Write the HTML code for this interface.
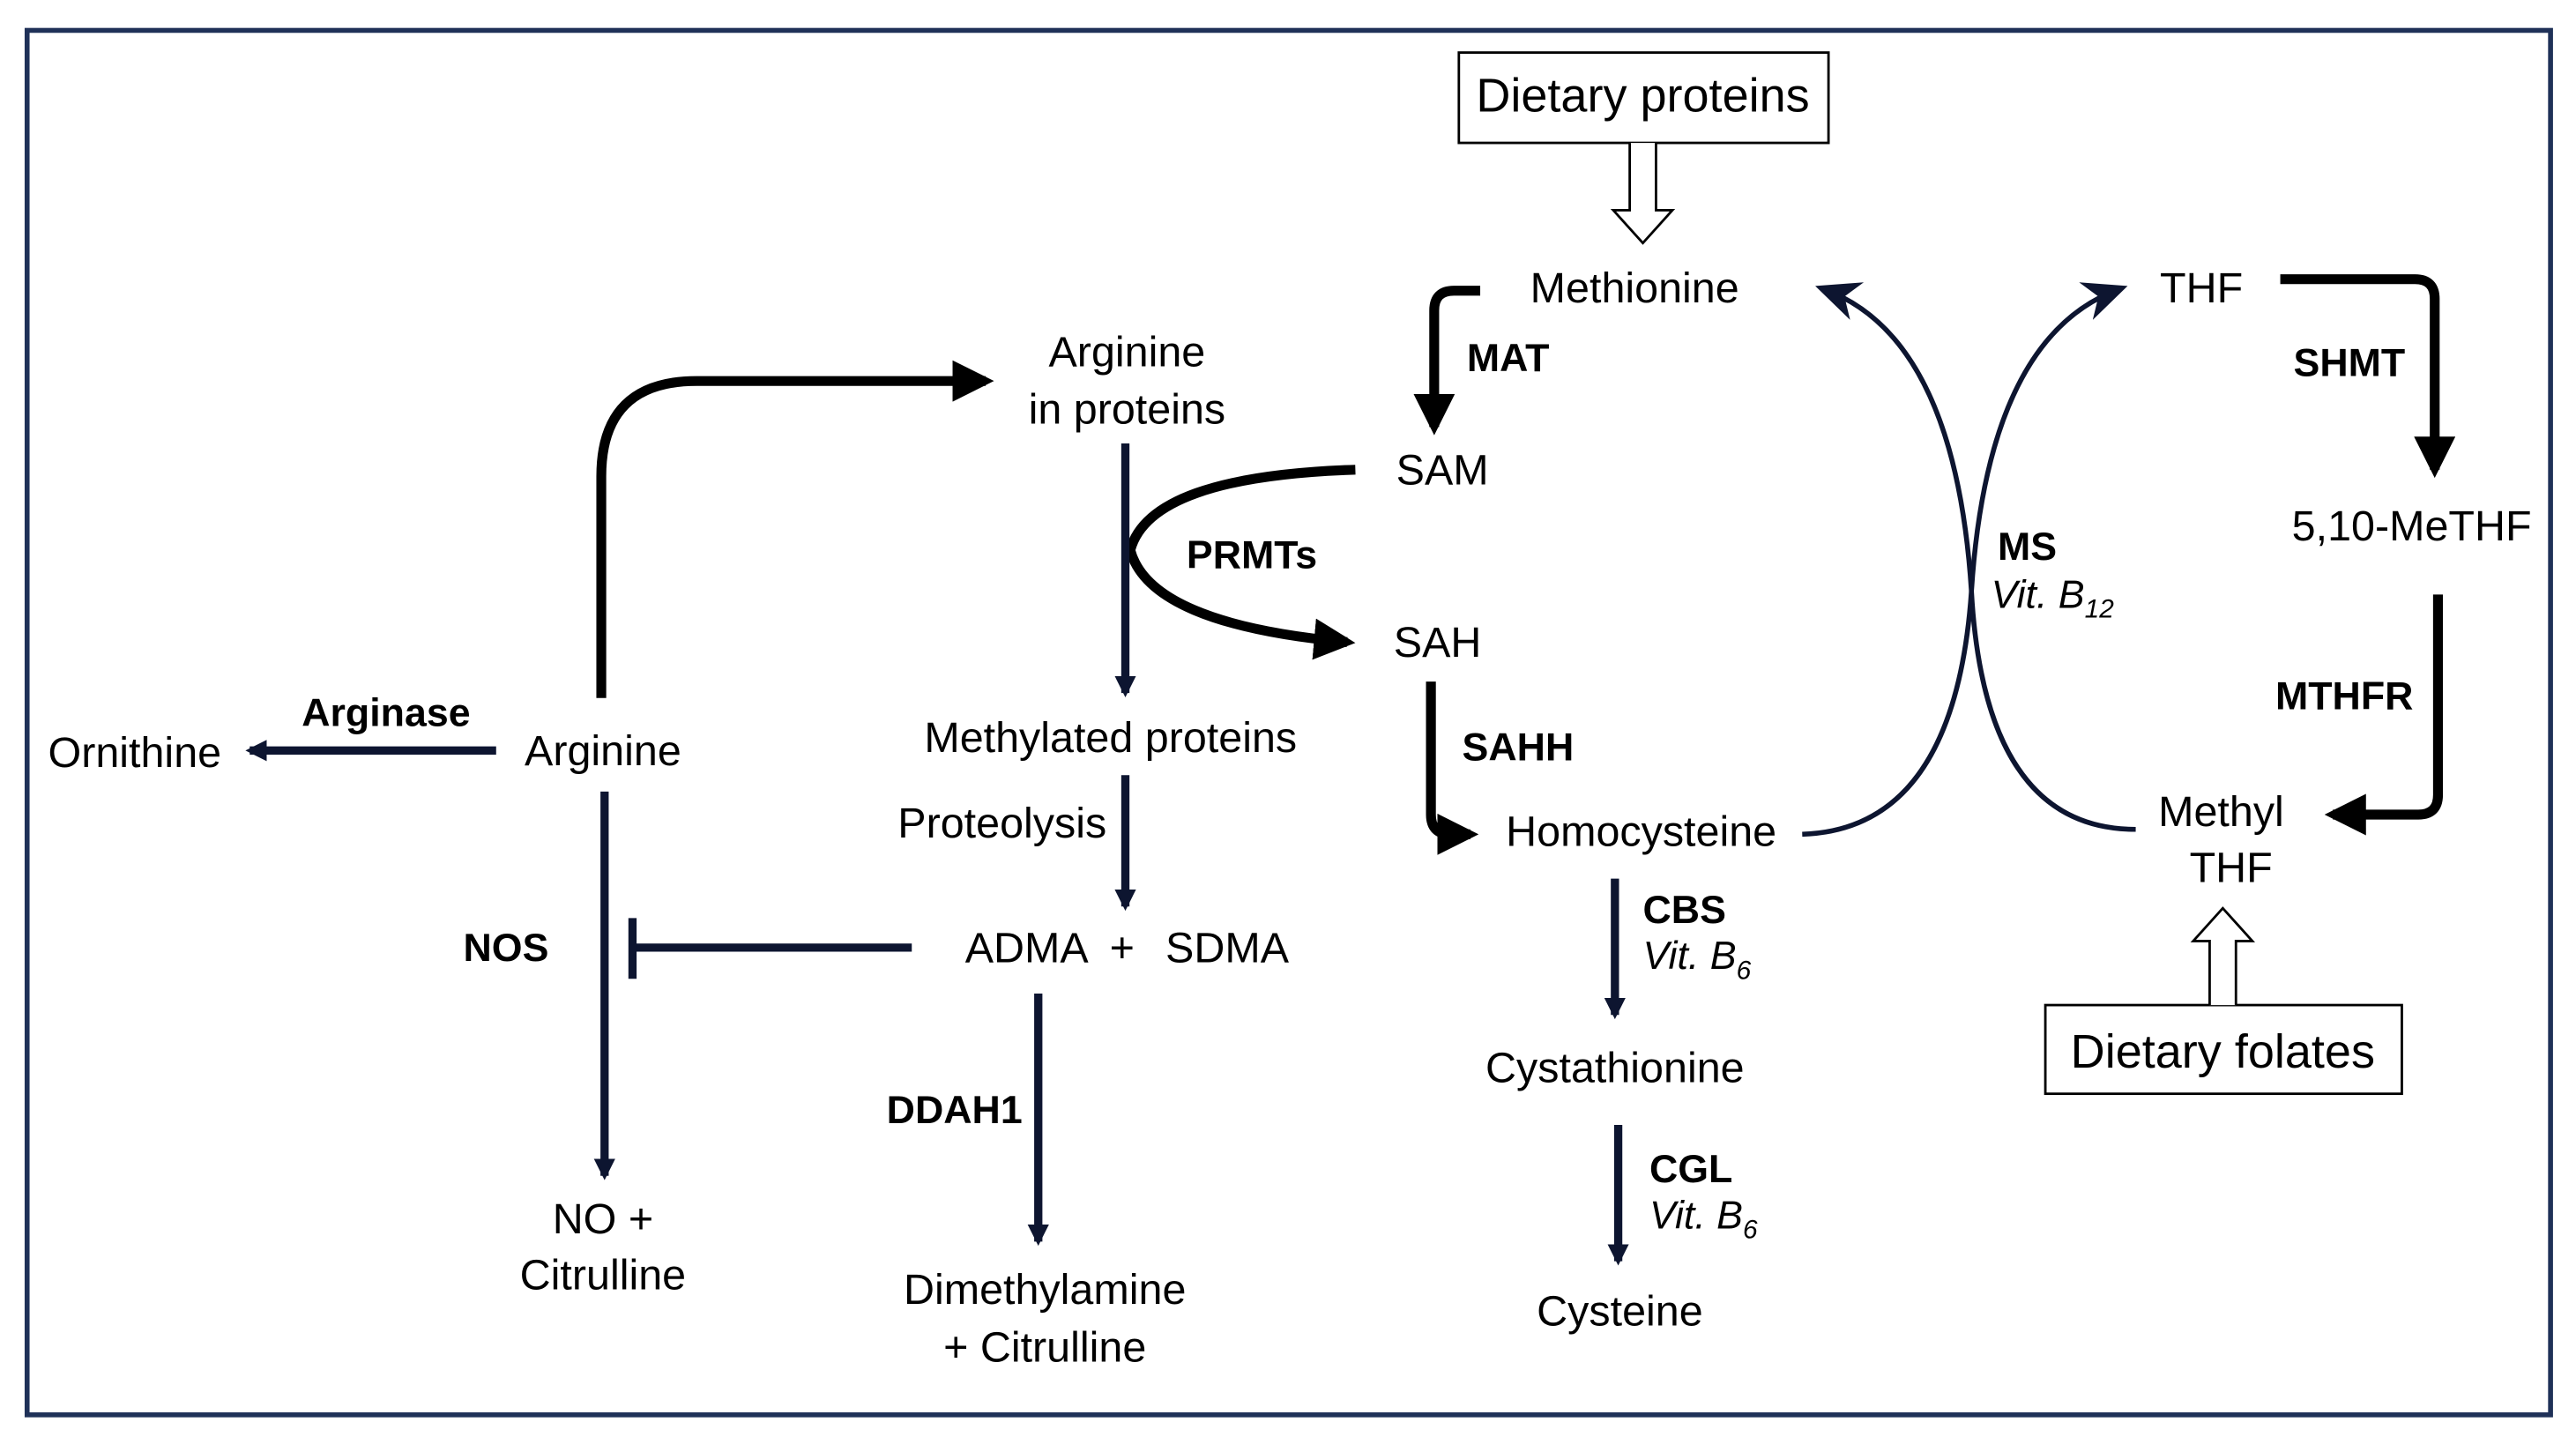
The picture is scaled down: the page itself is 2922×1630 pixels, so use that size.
<!DOCTYPE html>
<html><head><meta charset="utf-8"><style>
html,body{margin:0;padding:0;background:#fff;}
svg{display:block;}
text{font-family:"Liberation Sans",sans-serif;font-size:26px;fill:#000;}
.b{font-weight:bold;font-size:24px;}
.i{font-style:italic;font-size:24px;}
</style></head><body>
<svg width="2922" height="1630" viewBox="0 0 1568 875" preserveAspectRatio="none" xmlns="http://www.w3.org/2000/svg">
<defs>
<marker id="ak" viewBox="0 0 10 10" refX="8" refY="5" markerWidth="4.2" markerHeight="4.2" orient="auto" markerUnits="strokeWidth"><path d="M0,0 L10,5 L0,10 z" fill="#000"/></marker>
<marker id="an" viewBox="0 0 10 10" refX="8" refY="5" markerWidth="2.6" markerHeight="2.6" orient="auto" markerUnits="strokeWidth"><path d="M0,0 L10,5 L0,10 z" fill="#0d1530"/></marker>
<marker id="am" viewBox="0 0 10 10" refX="8" refY="5" markerWidth="9" markerHeight="9" orient="auto" markerUnits="strokeWidth"><path d="M0,0.5 L10,5 L0,9.5 L3,5 z" fill="#0d1530"/></marker>
</defs>
<rect x="16.5" y="18.5" width="1536" height="843" fill="none" stroke="#1f3158" stroke-width="3"/>

<rect x="888" y="32" width="225" height="55" fill="#fff" stroke="#000" stroke-width="1.5"/>
<text x="1000" y="68" text-anchor="middle" style="font-size:29px">Dietary proteins</text>
<path d="M992,87 V128 H982 L1000,148 L1018,128 H1008 V87" fill="#fff" stroke="#000" stroke-width="1.5"/>
<rect x="1245" y="612" width="217" height="54" fill="#fff" stroke="#000" stroke-width="1.5"/>
<text x="1353" y="650" text-anchor="middle" style="font-size:29px">Dietary folates</text>
<path d="M1345,612 V573 H1335 L1353,553 L1371,573 H1361 V612" fill="#fff" stroke="#000" stroke-width="1.5"/>

<text x="995" y="184" text-anchor="middle">Methionine</text>
<text x="918" y="226" text-anchor="middle" class="b">MAT</text>
<text x="878" y="295" text-anchor="middle">SAM</text>
<text x="875" y="400" text-anchor="middle">SAH</text>
<text x="686" y="223" text-anchor="middle">Arginine</text>
<text x="686" y="258" text-anchor="middle">in proteins</text>
<text x="762" y="346" text-anchor="middle" class="b">PRMTs</text>
<text x="676" y="458" text-anchor="middle">Methylated proteins</text>
<text x="610" y="510" text-anchor="middle">Proteolysis</text>
<text x="625" y="586" text-anchor="middle">ADMA</text>
<text x="683" y="586" text-anchor="middle">+</text>
<text x="747" y="586" text-anchor="middle">SDMA</text>
<text x="308" y="585" text-anchor="middle" class="b">NOS</text>
<text x="367" y="466" text-anchor="middle">Arginine</text>
<text x="82" y="467" text-anchor="middle">Ornithine</text>
<text x="235" y="442" text-anchor="middle" class="b">Arginase</text>
<text x="367" y="751" text-anchor="middle">NO +</text>
<text x="367" y="785" text-anchor="middle">Citrulline</text>
<text x="581" y="684" text-anchor="middle" class="b">DDAH1</text>
<text x="636" y="794" text-anchor="middle">Dimethylamine</text>
<text x="636" y="829" text-anchor="middle">+ Citrulline</text>
<text x="924" y="463" text-anchor="middle" class="b">SAHH</text>
<text x="999" y="515" text-anchor="middle">Homocysteine</text>
<text x="1000" y="562" class="b">CBS</text>
<text x="1000" y="590" class="i">Vit. B<tspan style="font-size:16px" dy="6">6</tspan></text>
<text x="983" y="659" text-anchor="middle">Cystathionine</text>
<text x="1004" y="720" class="b">CGL</text>
<text x="1004" y="748" class="i">Vit. B<tspan style="font-size:16px" dy="6">6</tspan></text>
<text x="986" y="807" text-anchor="middle">Cysteine</text>
<text x="1216" y="341" class="b">MS</text>
<text x="1212" y="370" class="i">Vit. B<tspan style="font-size:16px" dy="6">12</tspan></text>
<text x="1340" y="184" text-anchor="middle">THF</text>
<text x="1430" y="229" text-anchor="middle" class="b">SHMT</text>
<text x="1468" y="329" text-anchor="middle">5,10-MeTHF</text>
<text x="1427" y="432" text-anchor="middle" class="b">MTHFR</text>
<text x="1352" y="503" text-anchor="middle">Methyl</text>
<text x="1358" y="537" text-anchor="middle">THF</text>

<g fill="none" stroke="#000" stroke-width="6" stroke-linejoin="round">
<path d="M901,177 H885 Q873,177 873,189 V260" marker-end="url(#ak)"/>
<path d="M366,425 V290 Q366,232 424,232 H600" marker-end="url(#ak)"/>
<path d="M825,286 Q700,290 688,335 Q700,380 820,391" marker-end="url(#ak)"/>
<path d="M871,415 V496 Q871,508 883,508 H895" marker-end="url(#ak)"/>
<path d="M1388,170 H1470 Q1482,170 1482,182 V286" marker-end="url(#ak)"/>
<path d="M1484,362 V484 Q1484,496 1472,496 H1420" marker-end="url(#ak)"/>
</g>
<g fill="none" stroke="#0d1530" stroke-width="5">
<path d="M685,270 V422" marker-end="url(#an)"/>
<path d="M685,472 V552" marker-end="url(#an)"/>
<path d="M302,457 H152" marker-end="url(#an)"/>
<path d="M368,482 V716" marker-end="url(#an)"/>
<path d="M632,605 V756" marker-end="url(#an)"/>
<path d="M983,535 V618" marker-end="url(#an)"/>
<path d="M985,685 V768" marker-end="url(#an)"/>
<path d="M555,577 H385"/>
<path d="M385,559 V596"/>
</g>
<g fill="none" stroke="#0d1530" stroke-width="3">
<path d="M1097,508 Q1190,505 1200,360 Q1190,205 1110,176" marker-end="url(#am)"/>
<path d="M1300,505 Q1208,505 1200,360 Q1210,205 1290,176" marker-end="url(#am)"/>
</g>
</svg>
</body></html>
